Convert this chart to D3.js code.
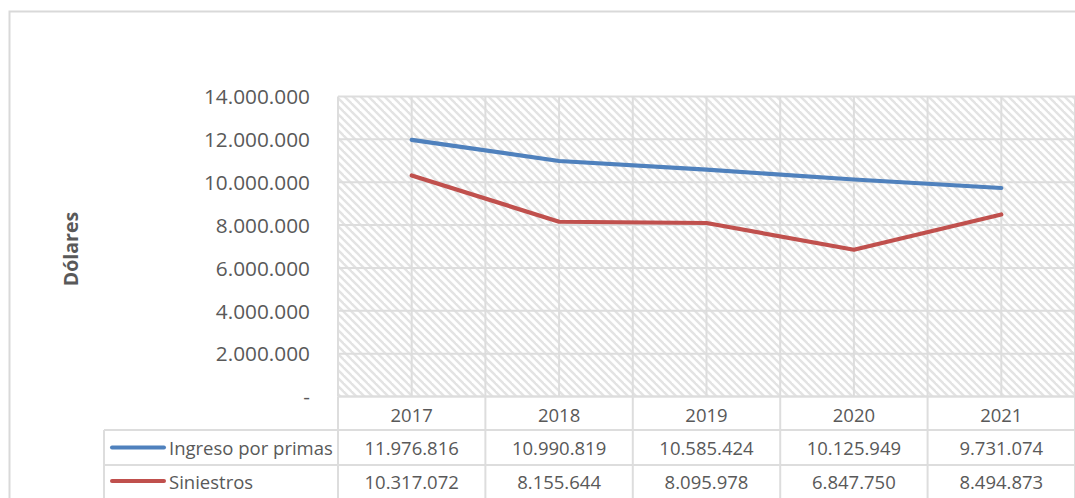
<!DOCTYPE html>
<html>
<head>
<meta charset="utf-8">
<script src="https://cdn.jsdelivr.net/npm/d3@7"></script>
<style>
  html, body { margin: 0; padding: 0; background: #fff; }
  svg { display: block; }
  text { font-family: "Open Sans", sans-serif; fill: #595959; }
</style>
</head>
<body>
<svg id="chart" width="1075" height="498"></svg>
<script>
// Categories and series
const years = ["2017", "2018", "2019", "2020", "2021"];
const ingreso = [11976816, 10990819, 10585424, 10125949, 9731074];
const siniestros = [10317072, 8155644, 8095978, 6847750, 8494873];
const seriesNames = ["Ingreso por primas", "Siniestros"];
const seriesColors = ["#4f81bd", "#c0504d"];
const yTicks = [0, 2000000, 4000000, 6000000, 8000000, 10000000, 12000000, 14000000];

const series = [
  { name: seriesNames[0], color: seriesColors[0], values: ingreso },
  { name: seriesNames[1], color: seriesColors[1], values: siniestros }
];

const svg = d3.select("#chart");
const W = 1075, H = 498;

// Plot area
const plot = { left: 338, right: 1075, top: 96.5, bottom: 396.5 };
const gridColor = "#dddddd";
const fmt = v => v === 0 ? "-" : d3.format(",")(v).replace(/,/g, ".");

const x = d3.scaleBand().domain(years).range([plot.left, plot.right]).padding(0);
const y = d3.scaleLinear().domain([0, 14000000]).range([plot.bottom, plot.top]);

// Outer chart frame
svg.append("rect")
  .attr("x", 9.5).attr("y", 11.5)
  .attr("width", W + 10).attr("height", H + 10)
  .attr("fill", "none").attr("stroke", "#d9d9d9").attr("stroke-width", 2);

// Diagonal hatch fill
const defs = svg.append("defs");
const pat = defs.append("pattern")
  .attr("id", "hatch").attr("patternUnits", "userSpaceOnUse")
  .attr("width", 8).attr("height", 8);
pat.append("rect").attr("width", 8).attr("height", 8).attr("fill", "#ffffff");
pat.selectAll("line").data([[-4, -4, 12, 12], [-4, 4, 4, 12], [4, -4, 12, 4]])
  .enter().append("line")
  .attr("x1", d => d[0]).attr("y1", d => d[1])
  .attr("x2", d => d[2]).attr("y2", d => d[3])
  .attr("stroke", "#e3e3e3").attr("stroke-width", 2.4);

svg.append("rect")
  .attr("x", plot.left).attr("y", plot.top)
  .attr("width", plot.right - plot.left).attr("height", plot.bottom - plot.top)
  .attr("fill", "url(#hatch)");

// Horizontal gridlines
svg.append("g").selectAll("line").data(yTicks).enter().append("line")
  .attr("x1", plot.left).attr("x2", plot.right)
  .attr("y1", d => y(d)).attr("y2", d => y(d))
  .attr("stroke", gridColor).attr("stroke-width", 2);

// Vertical gridlines at category edges and centres
const vLines = [];
years.forEach(yr => { vLines.push(x(yr)); vLines.push(x(yr) + x.bandwidth() / 2); });
vLines.push(plot.right);
svg.append("g").selectAll("line").data(vLines).enter().append("line")
  .attr("x1", d => d).attr("x2", d => d)
  .attr("y1", plot.top).attr("y2", plot.bottom)
  .attr("stroke", gridColor).attr("stroke-width", 2);

// Y axis labels
const yAxis = d3.axisLeft(y).tickValues(yTicks).tickFormat(fmt).tickSize(0).tickPadding(0);
const gy = svg.append("g").attr("transform", `translate(310,0)`).call(yAxis);
gy.select(".domain").remove();
gy.selectAll("text")
  .style("font-family", "'Open Sans', sans-serif")
  .style("font-size", "20.8px").style("fill", "#595959")
  .attr("dy", "0.35em");

// Axis title
svg.append("text")
  .attr("transform", "translate(70,249) rotate(-90)")
  .attr("text-anchor", "middle").attr("dominant-baseline", "central")
  .style("font-size", "19.5px").style("font-weight", "bold")
  .text("Dólares");

// Series lines
const line = d3.line()
  .x((d, i) => x(years[i]) + x.bandwidth() / 2)
  .y(d => y(d));
svg.append("g").selectAll("path").data(series).enter().append("path")
  .attr("d", d => line(d.values))
  .attr("fill", "none")
  .attr("stroke", d => d.color)
  .attr("stroke-width", 4.2)
  .attr("stroke-linejoin", "round").attr("stroke-linecap", "round");

// Data table below the plot
const rowTop = [plot.bottom, 430, 465, 500];
const tableLeft = 104;
const tbl = svg.append("g");
const tFont = "18.5px";

// Table grid lines
tbl.append("line").attr("x1", plot.left).attr("x2", plot.right)
  .attr("y1", rowTop[0]).attr("y2", rowTop[0]).attr("stroke", gridColor).attr("stroke-width", 2);
[rowTop[1], rowTop[2]].forEach(yy => {
  tbl.append("line").attr("x1", tableLeft).attr("x2", plot.right)
    .attr("y1", yy).attr("y2", yy).attr("stroke", gridColor).attr("stroke-width", 2);
});
const colEdges = years.map(yr => x(yr)).concat([plot.right]);
tbl.selectAll("line.col").data(colEdges).enter().append("line")
  .attr("class", "col")
  .attr("x1", d => d).attr("x2", d => d)
  .attr("y1", rowTop[0]).attr("y2", H)
  .attr("stroke", gridColor).attr("stroke-width", 2);
tbl.append("line").attr("x1", tableLeft).attr("x2", tableLeft)
  .attr("y1", rowTop[1]).attr("y2", H).attr("stroke", gridColor).attr("stroke-width", 2);

// Year header row
tbl.selectAll("text.year").data(years).enter().append("text")
  .attr("class", "year")
  .attr("x", d => x(d) + x.bandwidth() / 2)
  .attr("y", (rowTop[0] + rowTop[1]) / 2 + 1)
  .attr("text-anchor", "middle").attr("dominant-baseline", "central")
  .style("font-size", tFont)
  .text(d => d);

// Series rows with legend keys and values
series.forEach((s, si) => {
  const cy = (rowTop[si + 1] + rowTop[si + 2]) / 2 + (si === 1 ? -1.5 : 0);
  tbl.append("line")
    .attr("x1", 112).attr("x2", 164).attr("y1", cy).attr("y2", cy)
    .attr("stroke", s.color).attr("stroke-width", 4).attr("stroke-linecap", "round");
  tbl.append("text")
    .attr("x", 169).attr("y", cy)
    .attr("dominant-baseline", "central")
    .style("font-size", tFont)
    .text(s.name);
  tbl.selectAll(null).data(s.values).enter().append("text")
    .attr("x", (d, i) => x(years[i]) + x.bandwidth() / 2)
    .attr("y", cy)
    .attr("text-anchor", "middle").attr("dominant-baseline", "central")
    .style("font-size", tFont)
    .text(d => fmt(d));
});
</script>
</body>
</html>
